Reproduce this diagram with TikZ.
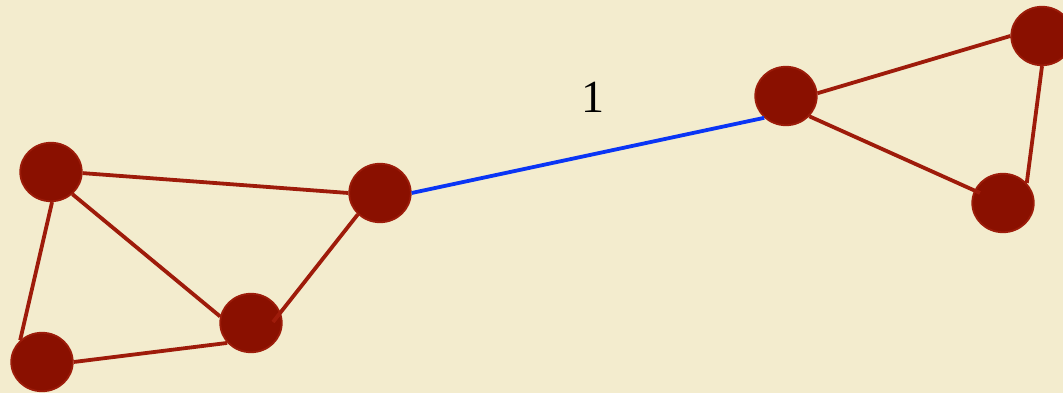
\documentclass[tikz,border=0pt]{standalone}
\usepackage{fontspec}
\setmainfont{Liberation Serif}
\usetikzlibrary{shapes.geometric,calc}
\definecolor{bg}{HTML}{F3ECCE}
\definecolor{nodefill}{HTML}{8A1000}
\definecolor{nodeedge}{HTML}{9C1C0A}
\definecolor{edgered}{HTML}{9E1B0A}
\definecolor{edgeblue}{HTML}{0A35F5}
\tikzset{
  vert/.style={ellipse, fill=nodefill, draw=nodeedge, line width=1.8pt, minimum width=61.5pt, minimum height=58.5pt, inner sep=0pt},
  redge/.style={draw=edgered, line width=3.8pt},
  bedge/.style={draw=edgeblue, line width=3.8pt},
}
\begin{document}
\begin{tikzpicture}[x=1pt,y=-1pt]
\fill[bg] (0,0) rectangle (1063,393);
\useasboundingbox (0,0) rectangle (1063,393);
\node[vert] (a) at (51,172) {};
\node[vert] (b) at (380,193) {};
\node[vert] (c) at (251,323) {};
\node[vert] (d) at (42,362) {};
\node[vert] (e) at (786,96) {};
\node[vert] (f) at (1042,36) {};
\node[vert] (g) at (1003,203) {};
% edges ending on node borders
\draw[redge] (a.-2) -- (b.180);
\draw[redge] (a.-46) -- (c.168);
\draw[redge] (a.-88) -- (d.135);
\draw[redge] (d.0) -- (c.-140);
\draw[bedge] (b.0) -- (e.-135);
\draw[redge] (e.5) -- (f.180);
\draw[redge] (f.-90) -- (g.40);
% edges that run a little into a node
\draw[redge] (b.-136) -- ($(c)+(22,-1)$);
\draw[redge] (e.-41) -- ($(g)+(-23,-10)$);
\node[font=\fontsize{46}{52}\selectfont, inner sep=0pt] (lbl) at (593,97) {1};
\end{tikzpicture}
\end{document}
